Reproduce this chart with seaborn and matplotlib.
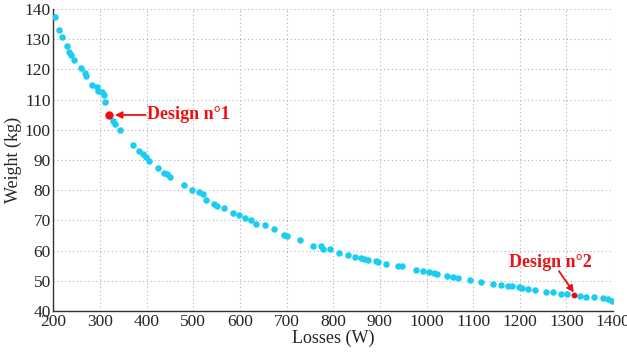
import pandas as pd
import seaborn as sns
import matplotlib.pyplot as plt

# Pareto front
losses = [203, 212, 219, 228, 234, 238, 245, 260, 268, 270, 283, 293, 296, 305, 309, 311,
          328, 333, 343, 370, 383, 393, 398, 405, 424, 438, 443, 450, 480, 498, 513, 520,
          528, 544, 550, 565, 586, 597, 611, 624, 634, 654, 673, 695, 701, 729, 756, 773,
          779, 794, 812, 832, 847, 859, 867, 874, 891, 896, 913, 938, 947, 977, 992, 1006,
          1017, 1022, 1044, 1056, 1068, 1093, 1116, 1142, 1160, 1174, 1183, 1198, 1205,
          1218, 1233, 1256, 1272, 1288, 1301, 1329, 1343, 1359, 1379, 1390, 1398]
weight = [137.3, 133.1, 130.7, 127.7, 125.9, 124.8, 123.0, 120.5, 118.7, 117.9, 114.7, 114.2,
          112.7, 112.4, 111.4, 109.3, 102.8, 101.9, 100.0, 95.0, 93.0, 91.9, 91.1, 89.7,
          87.5, 85.8, 85.3, 84.5, 81.6, 80.2, 79.4, 78.7, 76.8, 75.4, 74.9, 74.0, 72.5,
          71.7, 70.9, 70.1, 68.8, 68.5, 67.2, 65.2, 64.8, 63.5, 61.6, 61.4, 60.5, 60.5,
          59.3, 58.4, 57.9, 57.5, 57.1, 56.8, 56.6, 56.1, 55.6, 55.0, 54.8, 53.6, 53.3,
          53.0, 52.6, 52.2, 51.7, 51.3, 50.8, 50.4, 49.5, 48.9, 48.5, 48.3, 48.2, 47.9,
          47.6, 47.2, 47.0, 46.4, 46.3, 45.7, 45.6, 45.1, 44.7, 44.6, 44.4, 44.1, 43.4]

design_names = ["Design n°1", "Design n°2"]
design_losses = [320, 1316]
design_weight = [104.9, 45.4]

df = pd.DataFrame({"Losses (W)": losses, "Weight (kg)": weight})

sns.set_style("white")
plt.rcParams['font.family'] = ['Liberation Serif', 'DejaVu Serif']
plt.rcParams['font.size'] = 12.5

fig = plt.figure(figsize=(6.27, 3.59), dpi=100)
ax = fig.add_axes([0.0853, 0.1337, 0.8924, 0.8413])

sns.scatterplot(data=df, x="Losses (W)", y="Weight (kg)", ax=ax, color='#1ccdf2',
                s=22, linewidth=0, zorder=3)
ax.scatter(design_losses[0], design_weight[0], s=36, color='#ee1111', zorder=4, linewidth=0)
ax.scatter(design_losses[1], design_weight[1], s=18, color='#dd1111', zorder=4, linewidth=0)

red = '#ee1111'
arrow = dict(arrowstyle='-|>', color=red, lw=1.3, mutation_scale=10, shrinkA=0, shrinkB=0)

# labels
ax.text(400, design_weight[0], design_names[0], color=red, fontweight='bold', fontsize=13,
        va='center', ha='left')
ax.text(1265, 56.1, design_names[1], color=red, fontweight='bold', fontsize=13,
        va='center', ha='center')
# arrows
ax.annotate('', xy=(design_losses[0] + 12, design_weight[0]), xytext=(398, design_weight[0]),
            arrowprops=arrow)
ax.annotate('', xy=(design_losses[1], design_weight[1] + 0.7), xytext=(1284, 53.2),
            arrowprops=arrow)

ax.set_xlim(200, 1400)
ax.set_ylim(40, 140)
ax.set_xticks(range(200, 1401, 100))
ax.set_yticks(range(40, 141, 10))
ax.grid(True, linestyle=(0, (1, 2.5)), color='#b0b0b0', linewidth=0.8)
ax.tick_params(direction='in', length=4, width=0.8, color='#333333', labelsize=12.5, pad=2)
for side in ['top', 'right']:
    ax.spines[side].set_visible(False)
for side in ['left', 'bottom']:
    ax.spines[side].set_color('#333333')
    ax.spines[side].set_linewidth(1.0)
ax.set_xlabel("Losses (W)", fontsize=13, labelpad=0)
ax.set_ylabel("Weight (kg)", fontsize=13, labelpad=2)

fig.savefig("out.png", dpi=100)
